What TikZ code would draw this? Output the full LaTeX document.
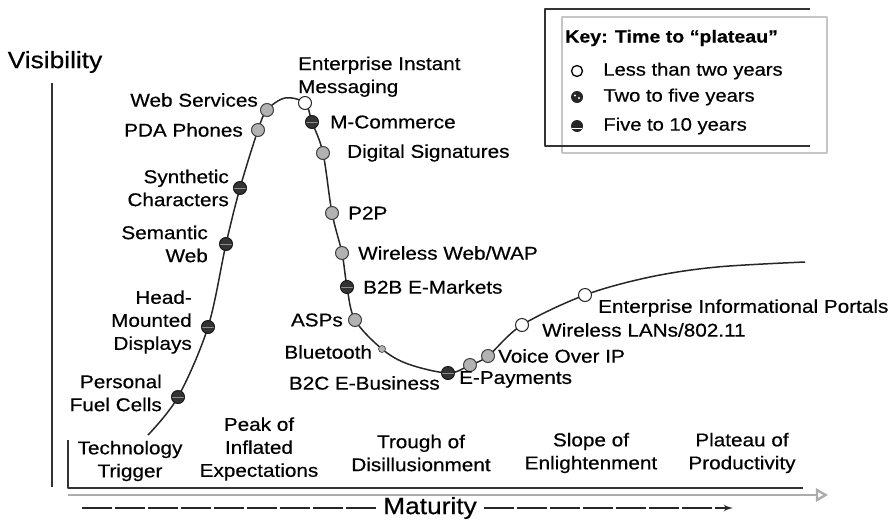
\documentclass[tikz,border=0pt]{standalone}
\usepackage{fontspec}
\setmainfont{Liberation Sans}[FakeStretch=1.12,FakeBold=0.45]
\usepackage{tikz}
\usetikzlibrary{arrows,positioning}
\tikzstyle{lessTwo}=[draw=black!85,fill=white,circle,minimum size=13pt,inner sep=0pt,line width=1pt]
\tikzstyle{twoFive}=[draw=black!75,fill=black!30,circle,minimum size=13pt,inner sep=0pt,line width=1pt]
\tikzstyle{fiveTen}=[draw=black!90,fill=black!80,circle,minimum size=13pt,inner sep=0pt,line width=1pt,
  path picture={\draw[black!45,line width=0.8pt] (path picture bounding box.west) -- (path picture bounding box.east);}]
\tikzstyle{keyLess}=[draw=black,fill=white,circle,minimum size=11pt,inner sep=0pt,line width=1.3pt]
\tikzstyle{keyTwo} =[fill=black!85,circle,minimum size=12pt,inner sep=0pt,
  path picture={\fill[white] ([xshift=-2pt,yshift=1.5pt]path picture bounding box.center) circle (1.2pt);
                \fill[white] ([xshift=2pt,yshift=-1pt]path picture bounding box.center) circle (1.2pt);}]
\tikzstyle{keyFive}=[fill=black!85,circle,minimum size=12pt,inner sep=0pt,
  path picture={\draw[white,line width=1.3pt] ([yshift=-2.5pt]path picture bounding box.west) -- ([yshift=-2.5pt]path picture bounding box.east);}]
\tikzstyle{lbl}    =[inner sep=0pt,font=\fontsize{18.5}{23}\selectfont]
\tikzstyle{phase}  =[lbl,align=center]
\tikzstyle{keyText}=[inner sep=0pt,font=\fontsize{18}{21}\selectfont]
\tikzstyle{axisLbl}=[inner sep=0pt,font=\fontsize{23.5}{26}\selectfont]
\tikzstyle{axis}   =[draw=black!80,line width=1.3pt]
\tikzstyle{matur}  =[draw=black!85,line width=2.2pt,dash pattern=on 30pt off 3pt]

\begin{document}
\begin{tikzpicture}[x=1pt,y=-1pt,line join=round]
  \useasboundingbox (0,0) rectangle (894,523);

  % key box
  \draw[gray!45,line width=1.6pt] (562,17) rectangle (827,153);
  \draw[black!80,line width=1.3pt] (810,9) -- (545,9) -- (545,146) -- (810,146);
  \node[keyText,font=\fontsize{17.5}{21}\selectfont\bfseries,anchor=west] (key) at (565,38) {Key: Time to “plateau”};
  \node[keyLess] (kLess) at (577,71) {};
  \node[keyTwo]  (kTwo)  at (577,97) {};
  \node[keyFive] (kFive) at (577,126) {};
  \node[keyText,right=20pt of kLess] {Less than two years};
  \node[keyText,right=20pt of kTwo]  {Two to five years};
  \node[keyText,right=20pt of kFive] {Five to 10 years};

  % axes
  \node[axisLbl] (vis) at (55,62) {Visibility};
  \coordinate (vTop) at (52,83);
  \coordinate (vBot) at (52,487);
  \draw[axis] (vTop) -- (vBot);
  \coordinate (bTop) at (68,440);
  \coordinate (bLeft) at (68,488);
  \coordinate (bRight) at (803,488);
  \draw[axis] (bTop) -- (bLeft) -- (bRight);
  \coordinate (gLeft) at (68,495);
  \coordinate (gRight) at (828,495);
  \draw[gray!65,line width=2.4pt,-open triangle 60] (gLeft) -- (gRight);
  \node[axisLbl,inner xsep=7pt] (mat) at (430,508) {Maturity};
  \coordinate (mLeft) at (82,508);
  \coordinate (mRight) at (733,508);
  \draw[matur] (mLeft) -- (mat.west);
  \draw[matur,-latex'] (mat.east) -- (mRight);

  % phases
  \node[phase] (trigger) at (130,461) {Technology\\Trigger};
  \node[phase] (peak)    at (259,449) {Peak of\\Inflated\\Expectations};
  \node[phase] (trough)  at (421,453) {Trough of\\Disillusionment};
  \node[phase] (slope)   at (591,453) {Slope of\\Enlightenment};
  \node[phase] (plateau) at (742,453) {Plateau of\\Productivity};

  % the hype curve
  \coordinate (c0)    at (148,435);
  \coordinate (pFuel) at (178,397);
  \coordinate (pHmd)  at (208,327);
  \coordinate (pSem)  at (226,244);
  \coordinate (pSyn)  at (240,188);
  \coordinate (pPda)  at (258,130);
  \coordinate (pWs)   at (267,110);
  \coordinate (c1)    at (285,98);
  \coordinate (pEim)  at (305,103);
  \coordinate (pMcom) at (312,122);
  \coordinate (pDsig) at (323,153);
  \coordinate (pP2p)  at (332,213);
  \coordinate (pWwap) at (342,253);
  \coordinate (pB2b)  at (347,287);
  \coordinate (pAsp)  at (355,320);
  \coordinate (pBlue) at (382,349);
  \coordinate (c2)    at (408,364);
  \coordinate (pB2c)  at (448,373);
  \coordinate (pEpay) at (470,365);
  \coordinate (pVoip) at (488,356);
  \coordinate (pWlan) at (522,325);
  \coordinate (pEip)  at (585,295);
  \coordinate (c3)    at (650,277);
  \coordinate (c4)    at (717,267);
  \coordinate (c5)    at (805,262);
  \draw[black!85,line width=1.5pt] plot[smooth,tension=0.55] coordinates {(c0) (pFuel) (pHmd) (pSem) (pSyn) (pPda) (pWs) (c1) (pEim) (pMcom) (pDsig) (pP2p) (pWwap) (pB2b) (pAsp) (pBlue) (c2) (pB2c) (pEpay) (pVoip) (pWlan) (pEip) (c3) (c4) (c5)};

  % technologies on the curve
  \node[fiveTen] (fuel) at (pFuel) {};
  \node[fiveTen] (hmd)  at (pHmd)  {};
  \node[fiveTen] (sem)  at (pSem)  {};
  \node[fiveTen] (syn)  at (pSyn)  {};
  \node[twoFive] (pda)  at (pPda)  {};
  \node[twoFive] (ws)   at (pWs)   {};
  \node[lessTwo] (eim)  at (pEim)  {};
  \node[fiveTen] (mcom) at (pMcom) {};
  \node[twoFive] (dsig) at (pDsig) {};
  \node[twoFive] (p2p)  at (pP2p)  {};
  \node[twoFive] (wwap) at (pWwap) {};
  \node[fiveTen] (b2b)  at (pB2b)  {};
  \node[twoFive] (asp)  at (pAsp)  {};
  \node[twoFive,minimum size=7pt,line width=0.6pt] (blue) at (pBlue) {};
  \node[fiveTen] (b2c)  at (pB2c)  {};
  \node[twoFive] (epay) at (pEpay) {};
  \node[twoFive] (voip) at (pVoip) {};
  \node[lessTwo] (wlan) at (pWlan) {};
  \node[lessTwo] (eip)  at (pEip)  {};

  \node[lbl,align=right,left=9pt of fuel,yshift=4pt] {Personal\\Fuel Cells};
  \node[lbl,align=right,left=9pt of hmd,yshift=5pt] {Head-\\Mounted\\Displays};
  \node[lbl,align=right,left=11pt of sem] {Semantic\\Web};
  \node[lbl,align=right,left=4pt of syn] {Synthetic\\Characters};
  \node[lbl,left=8pt of pda] {PDA Phones};
  \node[lbl,left=2pt of ws,yshift=10pt] {Web Services};
  \node[lbl,align=left,above right=1pt and -12pt of eim] {Enterprise Instant\\Messaging};
  \node[lbl,right=11pt of mcom] {M-Commerce};
  \node[lbl,right=17pt of dsig] {Digital Signatures};
  \node[lbl,right=9pt of p2p] {P2P};
  \node[lbl,right=9pt of wwap] {Wireless Web/WAP};
  \node[lbl,right=9pt of b2b] {B2B E-Markets};
  \node[lbl,left=5pt of asp] {ASPs};
  \node[lbl,left=6pt of blue,yshift=-3pt] {Bluetooth};
  \node[lbl,left=1pt of b2c,yshift=-10pt] {B2C E-Business};
  \node[lbl,below right=1pt and -16pt of epay] {E-Payments};
  \node[lbl,right=3pt of voip] {Voice Over IP};
  \node[lbl,right=13pt of wlan,yshift=-5pt] {Wireless LANs/802.11};
  \node[lbl,right=6pt of eip,yshift=-13pt] {Enterprise Informational Portals};
\end{tikzpicture}
\end{document}
